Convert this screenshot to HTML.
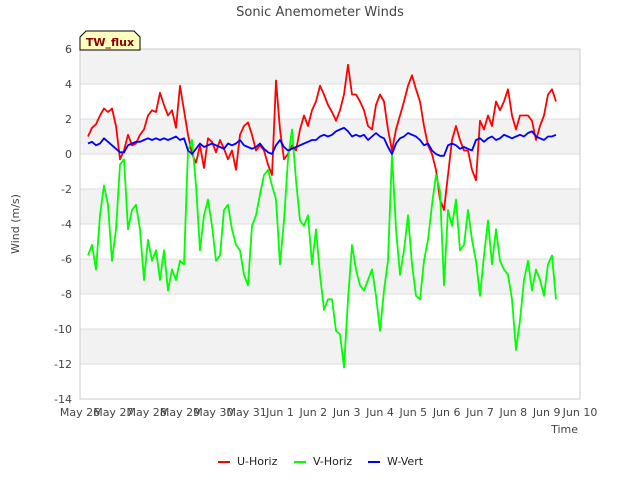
<!DOCTYPE html>
<html><head><meta charset="utf-8"><style>
body{margin:0;background:#fff;font-family:"DejaVu Sans","Liberation Sans",sans-serif}
svg text{font-family:"DejaVu Sans","Liberation Sans",sans-serif}
</style></head><body>
<svg id="c" width="640" height="480" xmlns="http://www.w3.org/2000/svg">
<text x="320" y="16" text-anchor="middle" font-size="13" fill="#444">Sonic Anemometer Winds</text>
<g id="bands"></g><g id="grid"></g>
<rect x="80" y="49" width="500" height="350" fill="none" stroke="#ccc"/>
<g id="ticks"></g><g id="series"></g>
<text transform="translate(19,224) rotate(-90)" text-anchor="middle" font-size="11" fill="#444">Wind (m/s)</text>
<text x="578" y="433" text-anchor="end" font-size="11" fill="#444">Time</text>
<g>
<path d="M80,50 L80,37 L86,31 L134,31 L140,37 L140,50 Z" fill="#ffffc0" stroke="#000"/>
<text x="110" y="46" text-anchor="middle" font-size="11" font-weight="bold" fill="#8b0000">TW_flux</text></g>
<g>
<g><line x1="218" y1="462" x2="230" y2="462" stroke="#f00" stroke-width="2"/><text x="237" y="465" font-size="11" fill="#222">U-Horiz</text></g>
<g><line x1="294" y1="462" x2="306" y2="462" stroke="#0f0" stroke-width="2"/><text x="313" y="465" font-size="11" fill="#222">V-Horiz</text></g>
<g><line x1="368" y1="462" x2="380" y2="462" stroke="#00f" stroke-width="2"/><text x="387" y="465" font-size="11" fill="#222">W-Vert</text></g>
</g>
</svg>
<script>
const xTickLabels=["May 26","May 27","May 28","May 29","May 30","May 31","Jun 1","Jun 2","Jun 3","Jun 4","Jun 5","Jun 6","Jun 7","Jun 8","Jun 9","Jun 10"];
const yTicks=[6,4,2,0,-2,-4,-6,-8,-10,-12,-14];
const tStart=0.24, tStep=0.12;
const uHoriz=[1.0,1.5,1.7,2.2,2.6,2.4,2.6,1.6,-0.3,0.2,1.1,0.5,0.6,1.1,1.4,2.2,2.5,2.4,3.5,2.8,2.2,2.5,1.5,3.9,2.5,1.1,0,-0.5,0.5,-0.8,0.9,0.7,0.1,0.8,0.3,-0.3,0.2,-0.9,1.1,1.6,1.8,1.1,0.2,0.5,0.2,-0.6,-1.2,4.2,1.4,-0.3,0,0.5,0.2,1.4,2.2,1.6,2.5,3.0,3.9,3.4,2.8,2.4,1.9,2.5,3.4,5.1,3.4,3.4,3.0,2.5,1.6,1.4,2.8,3.4,3.0,1.4,0.2,1.4,2.2,3.0,3.9,4.5,3.7,3.0,1.6,0.5,0,-0.9,-2.6,-3.2,-1.2,0.8,1.6,0.8,0.2,0.2,-0.9,-1.5,1.9,1.4,2.2,1.6,3.0,2.5,3.0,3.7,2.2,1.4,2.2,2.2,2.2,1.9,0.8,1.6,2.2,3.4,3.7,3.0];
const vHoriz=[-5.8,-5.2,-6.6,-3.5,-1.8,-2.9,-6.1,-4.3,-0.6,-0.3,-4.3,-3.2,-2.9,-4.3,-7.2,-4.9,-6.1,-5.5,-7.2,-5.5,-7.8,-6.6,-7.2,-6.1,-6.3,0.2,0.8,-1.8,-5.5,-3.5,-2.6,-4.1,-6.1,-5.8,-3.2,-2.9,-4.3,-5.2,-5.5,-6.9,-7.5,-4.1,-3.5,-2.3,-1.2,-0.9,-1.8,-2.6,-6.3,-3.8,-0.3,1.4,-1.5,-3.8,-4.1,-3.5,-6.3,-4.3,-6.9,-8.9,-8.3,-8.3,-10.1,-10.3,-12.2,-8.3,-5.2,-6.6,-7.5,-7.8,-7.2,-6.6,-8.1,-10.1,-7.8,-6.1,0,-4.3,-6.9,-5.5,-3.5,-6.3,-8.1,-8.3,-6.1,-4.9,-2.9,-1.2,-2.1,-7.5,-3.2,-4.1,-2.6,-5.5,-5.2,-3.2,-4.9,-6.1,-8.1,-5.8,-3.8,-6.3,-4.3,-6.1,-6.6,-6.9,-8.3,-11.2,-9.5,-7.2,-6.1,-7.8,-6.6,-7.2,-8.1,-6.3,-5.8,-8.3];
const wVert=[0.6,0.7,0.5,0.6,0.9,0.7,0.5,0.3,0.1,0.1,0.5,0.6,0.7,0.7,0.8,0.9,0.8,0.9,0.8,0.9,0.8,0.9,1.0,0.8,0.9,0.2,0.0,0.3,0.6,0.4,0.5,0.6,0.5,0.4,0.3,0.6,0.5,0.6,0.8,0.5,0.4,0.3,0.4,0.6,0.3,0.1,0.0,0.5,0.8,0.4,0.2,0.3,0.4,0.5,0.6,0.7,0.8,0.8,1.0,1.1,1.0,1.1,1.3,1.4,1.5,1.3,1.0,1.1,1.0,1.1,0.8,1.0,1.2,1.0,0.9,0.4,0.0,0.6,0.9,1.0,1.2,1.1,1.0,0.8,0.5,0.6,0.2,0.0,-0.1,-0.1,0.5,0.6,0.5,0.3,0.4,0.3,0.2,0.8,0.9,0.7,0.9,1.0,0.8,0.9,1.1,1.0,0.9,1.0,1.1,1.0,1.2,1.3,1.0,0.9,0.8,1.0,1.0,1.1];
const NS="http://www.w3.org/2000/svg";
const X=d=>80+d*500/15, Y=v=>49+(6-v)*17.5;
function mk(tag,attrs,parent){const e=document.createElementNS(NS,tag);for(const k in attrs)e.setAttribute(k,attrs[k]);document.getElementById(parent).appendChild(e);return e;}
for(let i=0;i<yTicks.length-1;i++){
 const r=mk('rect',{x:80,y:Y(yTicks[i]),width:500,height:Y(yTicks[i+1])-Y(yTicks[i]),fill:i%2===0?'#f2f2f2':'#fff'},'bands');
 
 
}
yTicks.forEach(v=>{
 const l=mk('line',{x1:80,x2:580,y1:Y(v),y2:Y(v),stroke:'#ddd'},'grid');
 
 
 const t=mk('text',{x:72,y:Y(v)+4,'text-anchor':'end','font-size':11,fill:'#444'},'ticks');t.textContent=v;
 
 
});
xTickLabels.forEach((s,i)=>{
 const t=mk('text',{x:X(i),y:416,'text-anchor':'middle','font-size':11,fill:'#444'},'ticks');t.textContent=s;
 
 
});
[[uHoriz,'#f00','u-horiz-line'],[vHoriz,'#0f0','v-horiz-line'],[wVert,'#00f','w-vert-line']].forEach(([arr,c,n])=>{
 const p=mk('polyline',{points:arr.map((v,i)=>X(tStart+i*tStep).toFixed(1)+','+Y(v).toFixed(1)).join(' '),fill:'none',stroke:c,'stroke-width':1.8,'stroke-linejoin':'round'},'series');
 
 
});
</script>
</body></html>
